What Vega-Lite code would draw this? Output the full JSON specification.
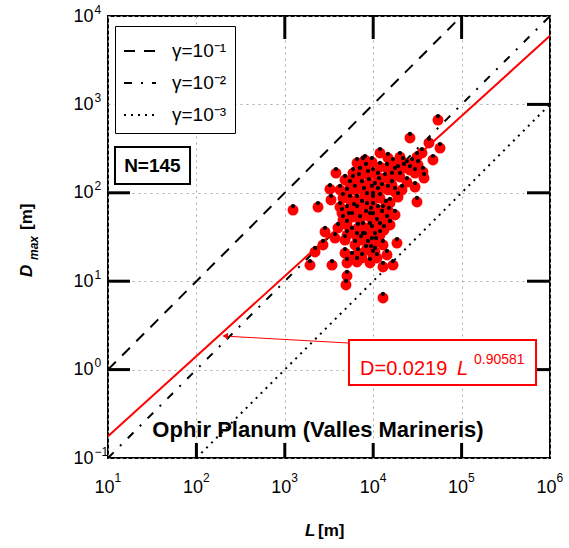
{
  "$schema": "https://vega.github.io/schema/vega-lite/v6.json",
  "width": 442,
  "height": 442,
  "autosize": {"type": "none"},
  "padding": {"left": 108, "top": 16, "right": 19, "bottom": 90},
  "background": "white",
  "config": {
    "font": "Liberation Sans",
    "view": {"stroke": "black", "strokeWidth": 2},
    "axis": {"labelFont": "Liberation Sans", "labelColor": "black", "labelFontSize": 18, "tickColor": "black", "tickWidth": 2, "domain": false, "labelFlush": false, "labelOverlap": false, "labelBound": false, "title": null}
  },
  "datasets": {
    "pts": [
      {"L":1239,"D":63.8},{"L":2375,"D":69.0},{"L":3245,"D":110},{"L":3334,"D":83.0},{"L":3793,"D":167},
      {"L":2851,"D":36.1},{"L":2704,"D":25.7},{"L":2197,"D":21.4},{"L":1928,"D":15.2},{"L":3420,"D":15.2},
      {"L":5058,"D":11.5},{"L":4920,"D":9.06},{"L":4797,"D":20.8},{"L":5058,"D":16.1},{"L":6561,"D":16.5},
      {"L":6730,"D":20.8},{"L":5058,"D":33.3},{"L":7674,"D":31.6},{"L":9204,"D":16.1},{"L":9441,"D":22.5},
      {"L":12912,"D":6.46},{"L":18578,"D":27.0},{"L":12912,"D":25.7},{"L":10471,"D":21.4},{"L":12912,"D":14.5},
      {"L":16749,"D":15.2},{"L":9954,"D":19.8},{"L":54075,"D":666},{"L":26062,"D":417},{"L":42756,"D":366},
      {"L":57016,"D":321},{"L":47424,"D":235},{"L":35645,"D":282},{"L":11940,"D":282},{"L":31261,"D":78.7},
      {"L":29717,"D":116},{"L":24099,"D":132},{"L":36559,"D":172},{"L":19099,"D":89.5},{"L":15488,"D":76.7},
      {"L":17660,"D":56.1},{"L":12912,"D":63.8},{"L":14322,"D":49.2},{"L":11940,"D":41.0},{"L":20091,"D":254},
      {"L":21727,"D":223},{"L":27479,"D":217},{"L":29717,"D":167},{"L":37584,"D":147},{"L":6561,"D":217},
      {"L":7674,"D":223},{"L":7096,"D":172},{"L":5902,"D":167},{"L":5470,"D":122},{"L":7464,"D":122},
      {"L":8730,"D":159},{"L":5058,"D":99.5},{"L":4550,"D":87.3},{"L":6561,"D":83.0},{"L":8511,"D":89.5},
      {"L":5058,"D":63.8},{"L":6561,"D":63.8},{"L":8511,"D":69.0},{"L":4550,"D":49.2},{"L":5754,"D":53.2},
      {"L":7096,"D":49.2},{"L":9204,"D":53.2},{"L":7674,"D":41.0},{"L":9204,"D":41.0},{"L":5058,"D":43.3},
      {"L":4209,"D":69.0},{"L":4436,"D":59.0},{"L":9683,"D":108},{"L":9954,"D":83.0},{"L":8072,"D":31.6},
      {"L":6561,"D":31.6},{"L":9683,"D":27.7},{"L":5902,"D":140},{"L":11940,"D":196},{"L":14322,"D":191},
      {"L":16749,"D":217},{"L":19099,"D":181},{"L":24099,"D":206},{"L":26062,"D":181},{"L":9954,"D":167},
      {"L":11324,"D":151},{"L":13583,"D":147},{"L":16331,"D":151},{"L":20091,"D":151},{"L":10471,"D":116},
      {"L":12589,"D":113},{"L":14689,"D":108},{"L":17660,"D":102},{"L":9954,"D":89.5},{"L":11940,"D":87.3},
      {"L":9954,"D":69.0},{"L":11324,"D":63.8},{"L":9954,"D":53.2},{"L":11041,"D":45.5},{"L":9683,"D":37.9},
      {"L":10471,"D":31.6},{"L":11940,"D":33.3},{"L":31261,"D":254},{"L":8072,"D":235},{"L":5470,"D":83.0},
      {"L":6223,"D":108},{"L":7464,"D":72.8},{"L":8299,"D":56.1},{"L":6730,"D":40.0},{"L":5754,"D":36.1},
      {"L":4797,"D":29.2},{"L":8730,"D":25.7},{"L":10765,"D":27.7},{"L":13243,"D":37.9},{"L":15488,"D":43.3},
      {"L":13964,"D":72.8},{"L":16331,"D":122},{"L":11641,"D":132},{"L":8954,"D":129},{"L":7870,"D":102},
      {"L":6067,"D":67.3},{"L":5321,"D":53.2},{"L":7278,"D":29.2},{"L":8299,"D":22.5},{"L":6223,"D":25.7},
      {"L":11324,"D":102},{"L":9441,"D":60.7},{"L":12589,"D":56.1},{"L":15101,"D":60.7},{"L":21184,"D":108},
      {"L":17660,"D":172},{"L":22284,"D":191},{"L":14689,"D":248},{"L":9683,"D":223},{"L":8299,"D":191},
      {"L":6902,"D":147},{"L":4797,"D":140},{"L":4209,"D":108},{"L":3999,"D":40.0},{"L":3698,"D":30.8},
      {"L":5754,"D":18.8},{"L":7464,"D":18.3},{"L":11041,"D":18.3},{"L":14322,"D":19.8},{"L":32137,"D":206}
    ],
    "lines": [
      {"g":"γ=10⁻¹","L":10,"D":1},{"g":"γ=10⁻¹","L":100000,"D":10000},
      {"g":"γ=10⁻²","L":10,"D":0.1},{"g":"γ=10⁻²","L":1000000,"D":10000},
      {"g":"γ=10⁻³","L":100,"D":0.1},{"g":"γ=10⁻³","L":1000000,"D":1000}
    ],
    "fit": [{"L":10,"D":0.17635},{"L":1000000,"D":5961}],
    "tk": [
      {"t":"b2","L":100,"D":0.1},{"t":"b2","L":100,"D":0.1478},
      {"t":"b3","L":1000,"D":0.1},{"t":"b3","L":1000,"D":0.1478},
      {"t":"b4","L":10000,"D":0.1},{"t":"b4","L":10000,"D":0.1478},
      {"t":"b5","L":100000,"D":0.1},{"t":"b5","L":100000,"D":0.1478},
      {"t":"t3","L":1000,"D":10000},{"t":"t3","L":1000,"D":5490},
      {"t":"t4","L":10000,"D":10000},{"t":"t4","L":10000,"D":5490},
      {"t":"t5","L":100000,"D":10000},{"t":"t5","L":100000,"D":5490},
      {"t":"l0","L":10,"D":1},{"t":"l0","L":17.73,"D":1},
      {"t":"l1","L":10,"D":10},{"t":"l1","L":17.73,"D":10},
      {"t":"l2","L":10,"D":100},{"t":"l2","L":17.73,"D":100},
      {"t":"r0","L":549000,"D":1},{"t":"r0","L":1000000,"D":1},
      {"t":"r1","L":549000,"D":10},{"t":"r1","L":1000000,"D":10},
      {"t":"r2","L":549000,"D":100},{"t":"r2","L":1000000,"D":100},
      {"t":"r3","L":549000,"D":1000},{"t":"r3","L":1000000,"D":1000}
    ]
  },
  "resolve": {"axis": {"x": "independent", "y": "independent"}},
  "layer": [
    {
      "data": {"name": "lines"},
      "mark": {"type": "line", "color": "black", "strokeWidth": 2},
      "encoding": {
        "x": {"field": "L", "type": "quantitative", "scale": {"type": "log", "domain": [10, 1000000], "nice": false}, "axis": null},
        "y": {"field": "D", "type": "quantitative", "scale": {"type": "log", "domain": [0.1, 10000], "nice": false}, "axis": null},
        "strokeDash": {
          "field": "g", "type": "nominal",
          "scale": {"domain": ["γ=10⁻¹", "γ=10⁻²", "γ=10⁻³"], "range": [[11, 9], [8, 9, 2, 9], [2, 5]]},
          "legend": {"title": null, "orient": "none", "legendX": 7, "legendY": 10, "padding": 8, "strokeColor": "black", "fillColor": "white", "symbolType": "stroke", "symbolSize": 1024, "symbolStrokeWidth": 2, "symbolStrokeColor": "black", "labelFontSize": 19, "labelFont": "Liberation Sans", "labelColor": "black", "rowPadding": 5, "labelOffset": 15}
        }
      }
    },
    {
      "data": {"name": "fit"},
      "mark": {"type": "line", "color": "#ff0000", "strokeWidth": 2},
      "encoding": {
        "x": {"field": "L", "type": "quantitative", "axis": null},
        "y": {"field": "D", "type": "quantitative", "axis": null}
      }
    },
    {
      "data": {"name": "tk"},
      "mark": {"type": "line", "color": "black", "strokeWidth": 3, "strokeCap": "butt", "opacity": 1},
      "encoding": {
        "x": {"field": "L", "type": "quantitative", "axis": null},
        "y": {"field": "D", "type": "quantitative", "axis": null},
        "detail": {"field": "t", "type": "nominal"}
      }
    },
    {
      "data": {"name": "pts"},
      "mark": {"type": "circle", "color": "#ff0000", "opacity": 1, "size": 120},
      "encoding": {
        "x": {"field": "L", "type": "quantitative", "axis": {"orient": "bottom", "values": [10, 100, 1000, 10000, 100000, 1000000], "labelExpr": "'10'", "labelOffset": -4, "grid": true, "gridColor": "#aaaaaa", "gridDash": [2, 4], "gridWidth": 1, "ticks": false, "labelPadding": 20}},
        "y": {"field": "D", "type": "quantitative", "axis": {"orient": "left", "values": [0.1, 1, 10, 100, 1000, 10000], "labelExpr": "'10'", "grid": true, "gridColor": "#aaaaaa", "gridDash": [2, 4], "gridWidth": 1, "ticks": false, "labelPadding": 15}}
      }
    },
    {
      "data": {"name": "pts"},
      "mark": {"type": "circle", "color": "black", "opacity": 1, "size": 18, "yOffset": -4},
      "encoding": {
        "x": {"field": "L", "type": "quantitative", "axis": {"orient": "bottom", "values": [10, 100, 1000, 10000, 100000, 1000000], "labelExpr": "format(round(log(datum.value)/LN10), 'd')", "labelFontSize": 12, "labelAlign": "left", "labelOffset": 6, "labelPadding": 14, "grid": false, "ticks": false}},
        "y": {"field": "D", "type": "quantitative", "axis": {"orient": "left", "values": [0.1, 1, 10, 100, 1000, 10000], "labelExpr": "format(round(log(datum.value)/LN10), 'd')", "labelFontSize": 12, "labelAlign": "left", "labelOffset": -7, "labelPadding": 14, "grid": false, "ticks": false}}
      }
    },
    {
      "data": {"values": [{}]},
      "mark": {"type": "rect", "fill": "white", "stroke": "black", "strokeWidth": 2},
      "encoding": {"x": {"datum": 12.0, "type": "quantitative", "axis": null}, "x2": {"datum": 84.7}, "y": {"datum": 126, "type": "quantitative", "axis": null}, "y2": {"datum": 330}}
    },
    {
      "data": {"values": [{}]},
      "mark": {"type": "text", "text": "N=145", "fontSize": 19, "fontWeight": "bold", "align": "center", "baseline": "middle", "color": "black"},
      "encoding": {"x": {"datum": 31.8, "type": "quantitative", "axis": null}, "y": {"datum": 201, "type": "quantitative", "axis": null}}
    },
    {
      "data": {"values": [{}]},
      "mark": {"type": "rule", "color": "#ff0000", "strokeWidth": 1},
      "encoding": {"x": {"datum": 240, "type": "quantitative", "axis": null}, "x2": {"datum": 5188}, "y": {"datum": 2.375, "type": "quantitative", "axis": null}, "y2": {"datum": 2.0}}
    },
    {
      "data": {"values": [{}]},
      "mark": {"type": "point", "shape": "triangle-left", "filled": true, "color": "#ff0000", "opacity": 1, "size": 45},
      "encoding": {"x": {"datum": 212, "type": "quantitative", "axis": null}, "y": {"datum": 2.40, "type": "quantitative", "axis": null}}
    },
    {
      "data": {"values": [{}]},
      "mark": {"type": "rect", "fill": "white", "stroke": "#ff0000", "strokeWidth": 2},
      "encoding": {"x": {"datum": 5321, "type": "quantitative", "axis": null}, "x2": {"datum": 695000}, "y": {"datum": 0.670, "type": "quantitative", "axis": null}, "y2": {"datum": 2.16}}
    },
    {
      "data": {"values": [{}]},
      "mark": {"type": "text", "text": "D=0.0219", "fontSize": 20, "align": "left", "baseline": "alphabetic", "color": "#ff0000"},
      "encoding": {"x": {"datum": 7096, "type": "quantitative", "axis": null}, "y": {"datum": 0.869, "type": "quantitative", "axis": null}}
    },
    {
      "data": {"values": [{}]},
      "mark": {"type": "text", "text": "L", "fontSize": 20, "fontStyle": "italic", "align": "left", "baseline": "alphabetic", "color": "#ff0000"},
      "encoding": {"x": {"datum": 88700, "type": "quantitative", "axis": null}, "y": {"datum": 0.869, "type": "quantitative", "axis": null}}
    },
    {
      "data": {"values": [{}]},
      "mark": {"type": "text", "text": "0.90581", "fontSize": 14, "align": "left", "baseline": "alphabetic", "color": "#ff0000"},
      "encoding": {"x": {"datum": 138000, "type": "quantitative", "axis": null}, "y": {"datum": 1.157, "type": "quantitative", "axis": null}}
    },
    {
      "data": {"values": [{}]},
      "mark": {"type": "text", "text": "Ophir Planum (Valles Marineris)", "fontSize": 22, "fontWeight": "bold", "align": "center", "baseline": "alphabetic", "color": "black"},
      "encoding": {"x": {"datum": 2375, "type": "quantitative", "axis": null}, "y": {"datum": 0.1728, "type": "quantitative", "axis": null}}
    },
    {
      "data": {"values": [{}]},
      "mark": {"type": "text", "text": "L", "fontSize": 17, "fontWeight": "bold", "fontStyle": "italic", "align": "left", "baseline": "alphabetic", "color": "black"},
      "encoding": {"x": {"datum": 1693, "type": "quantitative", "axis": null}, "y": {"datum": 0.01312, "type": "quantitative", "axis": null}}
    },
    {
      "data": {"values": [{}]},
      "mark": {"type": "text", "text": "[m]", "fontSize": 17, "fontWeight": "bold", "align": "left", "baseline": "alphabetic", "color": "black"},
      "encoding": {"x": {"datum": 2375, "type": "quantitative", "axis": null}, "y": {"datum": 0.01312, "type": "quantitative", "axis": null}}
    },
    {
      "data": {"values": [{}]},
      "mark": {"type": "text", "text": "D", "fontSize": 17, "fontWeight": "bold", "fontStyle": "italic", "angle": 270, "align": "left", "baseline": "alphabetic", "color": "black"},
      "encoding": {"x": {"datum": 1.381, "type": "quantitative", "axis": null}, "y": {"datum": 11.16, "type": "quantitative", "axis": null}}
    },
    {
      "data": {"values": [{}]},
      "mark": {"type": "text", "text": "max", "fontSize": 12, "fontWeight": "bold", "fontStyle": "italic", "angle": 270, "align": "left", "baseline": "alphabetic", "color": "black"},
      "encoding": {"x": {"datum": 1.615, "type": "quantitative", "axis": null}, "y": {"datum": 17.38, "type": "quantitative", "axis": null}}
    },
    {
      "data": {"values": [{}]},
      "mark": {"type": "text", "text": "[m]", "fontSize": 17, "fontWeight": "bold", "angle": 270, "align": "left", "baseline": "alphabetic", "color": "black"},
      "encoding": {"x": {"datum": 1.381, "type": "quantitative", "axis": null}, "y": {"datum": 37.95, "type": "quantitative", "axis": null}}
    }
  ]
}
